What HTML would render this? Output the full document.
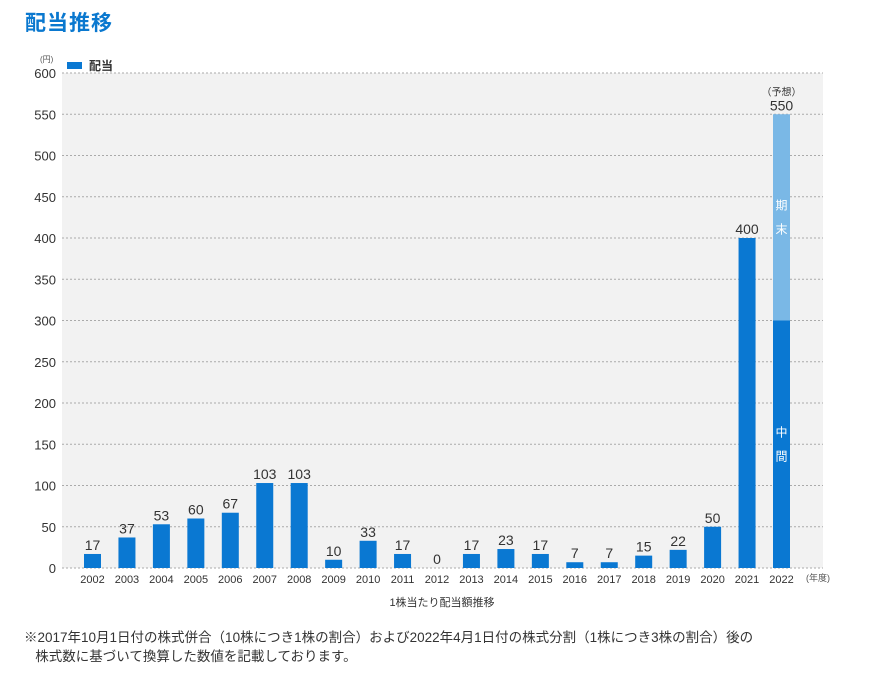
<!DOCTYPE html>
<html><head><meta charset="utf-8"><style>
body{margin:0;background:#fff;width:870px;height:674px;overflow:hidden;font-family:"Liberation Sans","Noto Sans CJK JP",sans-serif}
#title{position:absolute;left:25px;top:7px;font-size:21px;font-weight:bold;color:#0a78cf;letter-spacing:1px}
#note{position:absolute;left:24px;top:628px;font-size:13.5px;color:#333;line-height:19px}
</style></head><body>
<div id="title">配当推移</div>
<svg id="chart" width="870" height="674" style="position:absolute;left:0;top:0"></svg>
<div id="note">※2017年10月1日付の株式併合（10株につき1株の割合）および2022年4月1日付の株式分割（1株につき3株の割合）後の<br>&nbsp;&nbsp;&nbsp;株式数に基づいて換算した数値を記載しております。</div>
<script>
const years=["2002","2003","2004","2005","2006","2007","2008","2009","2010","2011","2012","2013","2014","2015","2016","2017","2018","2019","2020","2021","2022"];
const interim=[17,37,53,60,67,103,103,10,33,17,0,17,23,17,7,7,15,22,50,400,300];
const yearEnd=[0,0,0,0,0,0,0,0,0,0,0,0,0,0,0,0,0,0,0,0,250];
const yTicks=[0,50,100,150,200,250,300,350,400,450,500,550,600];
const NS="http://www.w3.org/2000/svg";
const svg=document.getElementById('chart');
const x0=62,x1=823,yTop=73,yBot=568,step=34.45,first=92.5,bw=17;
const y=v=>yBot-(v/600)*(yBot-yTop);
const xc=i=>first+i*step;
function mk(t,a,txt){const e=document.createElementNS(NS,t);for(const k in a)e.setAttribute(k,a[k]);if(txt!==undefined)e.textContent=txt;svg.appendChild(e);return e;}
let bg=mk('rect',{x:x0,y:yTop,width:x1-x0,height:yBot-yTop,fill:'#f2f2f2'});


yTicks.forEach(v=>{
 let g=mk('line',{x1:x0,x2:x1,y1:y(v),y2:y(v),stroke:'#aaa','stroke-dasharray':'2,2','stroke-width':1});
 
 
 let t=mk('text',{x:56,y:y(v)+5,'text-anchor':'end','font-size':13,fill:'#333'},v);
 
 
});
years.forEach((yr,i)=>{
 const total=interim[i]+yearEnd[i];
 let b=mk('rect',{x:xc(i)-bw/2,y:y(interim[i]),width:bw,height:yBot-y(interim[i]),fill:'#0a78d2'});
 
 
 if(yearEnd[i]>0){
  let b2=mk('rect',{x:xc(i)-bw/2,y:y(total),width:bw,height:y(interim[i])-y(total),fill:'#7ab8e6'});
  
  
  const mid1=(y(total)+y(interim[i]))/2;
  let k1=mk('text',{x:xc(i),y:mid1-8,'text-anchor':'middle','font-size':12,fill:'#fff'},'期');
  
  let k2=mk('text',{x:xc(i),y:mid1+16,'text-anchor':'middle','font-size':12,fill:'#fff'},'末');
  
  const mid2=(y(interim[i])+yBot)/2;
  let k3=mk('text',{x:xc(i),y:mid2-8,'text-anchor':'middle','font-size':12,fill:'#fff'},'中');
  
  let k4=mk('text',{x:xc(i),y:mid2+16,'text-anchor':'middle','font-size':12,fill:'#fff'},'間');
  
  let f=mk('text',{x:xc(i),y:y(total)-19,'text-anchor':'middle','font-size':10,fill:'#333'},'（予想）');
  
 }
 let v=mk('text',{x:xc(i),y:y(total)-4,'text-anchor':'middle','font-size':14,fill:'#333'},total);
 
 
 let t=mk('text',{x:xc(i),y:583,'text-anchor':'middle','font-size':11,fill:'#333'},yr);
 
 
});
let u=mk('text',{x:40,y:62,'font-size':8,fill:'#555'},'(円)');

let xu=mk('text',{x:806,y:581,'font-size':9,fill:'#555'},'(年度)');

let xt=mk('text',{x:442,y:606,'text-anchor':'middle','font-size':11,fill:'#333'},'1株当たり配当額推移');

let ls=mk('rect',{x:67,y:62,width:15,height:7,fill:'#0a78d2'});

let lt=mk('text',{x:89,y:70,'font-size':12,'font-weight':'bold',fill:'#333'},'配当');

</script>
</body></html>
